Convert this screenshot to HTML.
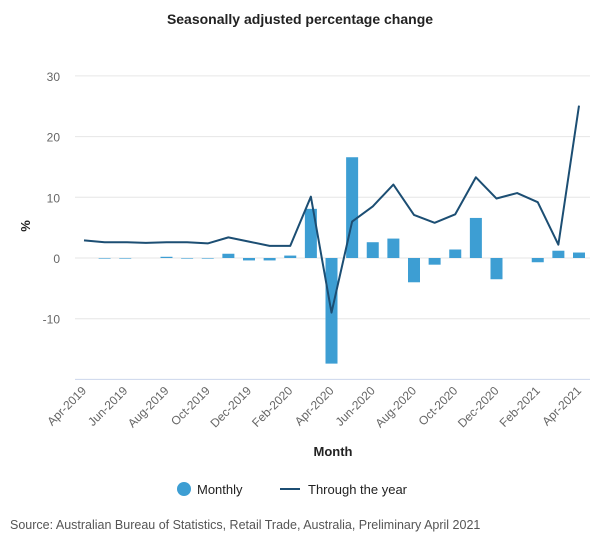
<!DOCTYPE html>
<html><head><meta charset="utf-8"><style>
body{margin:0;background:#fff;font-family:"Liberation Sans",sans-serif}
svg text{font-family:"Liberation Sans",sans-serif}
</style></head><body>
<svg width="600" height="550">
<text x="300" y="24" text-anchor="middle" font-size="14" font-weight="bold" fill="#222">Seasonally adjusted percentage change</text>
<g id="grid"></g><g id="bars"></g><g id="line"></g><g id="xlab"></g>
<text transform="translate(30,226) rotate(-90)" text-anchor="middle" font-size="13" font-weight="bold" fill="#222">%</text>
<text x="333" y="456" text-anchor="middle" font-size="13" font-weight="bold" fill="#222">Month</text>
<g><circle cx="184" cy="489" r="7" fill="#3d9ed3"/><text x="197" y="494" font-size="13" fill="#222">Monthly</text></g>
<g><line x1="280" y1="489" x2="300" y2="489" stroke="#1c4e73" stroke-width="2"/><text x="308" y="494" font-size="13" fill="#222">Through the year</text></g>
<text x="10" y="529" font-size="12.5" fill="#555">Source: Australian Bureau of Statistics, Retail Trade, Australia, Preliminary April 2021</text>
</svg>
<script>
const months=["Apr-2019","May-2019","Jun-2019","Jul-2019","Aug-2019","Sep-2019","Oct-2019","Nov-2019","Dec-2019","Jan-2020","Feb-2020","Mar-2020","Apr-2020","May-2020","Jun-2020","Jul-2020","Aug-2020","Sep-2020","Oct-2020","Nov-2020","Dec-2020","Jan-2021","Feb-2021","Mar-2021","Apr-2021"];
const monthly=[0,-0.1,-0.1,0,0.2,-0.1,-0.1,0.7,-0.4,-0.4,0.4,8.1,-17.4,16.6,2.6,3.2,-4.0,-1.1,1.4,6.6,-3.5,0,-0.7,1.2,0.9];
const throughYear=[2.9,2.6,2.6,2.5,2.6,2.6,2.4,3.4,2.7,2.0,2.0,10.1,-9.0,6.0,8.5,12.1,7.1,5.8,7.2,13.3,9.8,10.7,9.2,2.2,25.1];
const yTicks=[-10,0,10,20,30];
const NS="http://www.w3.org/2000/svg";
const x=i=>84+i*(495/24);
const y=v=>258-v*6.07;
function mk(t,a,p){const e=document.createElementNS(NS,t);for(const k in a)e.setAttribute(k,a[k]);p.appendChild(e);return e;}
const grid=document.getElementById('grid');
yTicks.forEach(v=>{
 const l=mk('line',{x1:75,x2:590,y1:y(v),y2:y(v),stroke:'#e6e6e6'},grid);
 
 
 const t=mk('text',{x:60,y:y(v)+5,'text-anchor':'end','font-size':12,fill:'#666'},grid);
 t.textContent=v;
 
 
});
const ax=mk('line',{x1:75,x2:590,y1:y(-20),y2:y(-20),stroke:'#ccd6eb'},grid);


const bars=document.getElementById('bars');
monthly.forEach((v,i)=>{
 const r=mk('rect',{x:x(i)-6,y:Math.min(y(v),y(0)),width:12,height:Math.abs(y(v)-y(0)),fill:'#3d9ed3'},bars);
 
 
});
const p=mk('polyline',{points:throughYear.map((v,i)=>x(i)+','+y(v)).join(' '),fill:'none',stroke:'#1c4e73','stroke-width':2,'stroke-linejoin':'round'},document.getElementById('line'));


const xl=document.getElementById('xlab');
months.forEach((m,i)=>{if(i%2)return;
 const t=mk('text',{transform:`translate(${x(i)+3},${y(-20)+12}) rotate(-45)`,'text-anchor':'end','font-size':12,fill:'#666'},xl);
 t.textContent=m;
 
 
});
</script>
</body></html>
